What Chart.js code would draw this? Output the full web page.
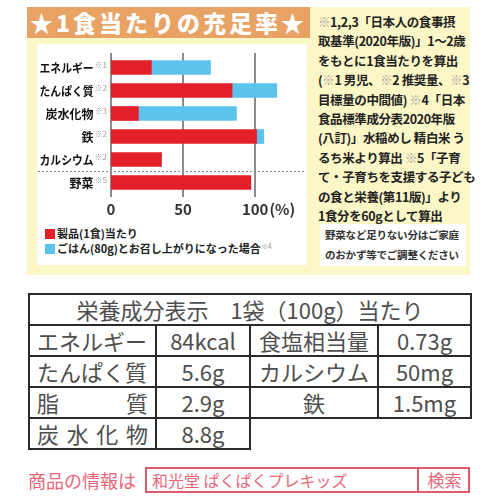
<!DOCTYPE html>
<html><head><meta charset="utf-8">
<script src="https://cdn.jsdelivr.net/npm/chart.js@4"></script>
<style>
html,body{margin:0;padding:0;background:#fff;width:500px;height:500px;overflow:hidden;font-family:"Noto Sans CJK JP","Noto Sans",sans-serif;}
.abs{position:absolute;}
#yellow{left:27px;top:7px;width:443px;height:268px;background:#fcf7c6;}
#header{left:27px;top:7px;width:283px;height:31px;background:#e8a263;color:#fff;font-weight:900;font-size:23px;line-height:31px;text-align:center;letter-spacing:3px;white-space:nowrap;}
#chartbox{left:37px;top:44px;width:270px;height:221px;background:#fff;}
#cwrap{left:37px;top:44px;width:270px;height:178px;}
#notes{left:318px;top:12px;font-size:12.5px;line-height:19.4px;font-weight:700;color:#222;white-space:nowrap;letter-spacing:-0.4px;}
.g{color:#a3a3a3;font-weight:400;}
#vegbox{left:320px;top:224px;width:146px;height:42px;background:#fff;}
#vegtxt{left:325px;top:225px;font-size:10.5px;line-height:20px;font-weight:700;color:#333;white-space:nowrap;letter-spacing:-0.2px;}
#legend{left:45px;top:226px;font-size:11px;line-height:15px;font-weight:700;color:#222;white-space:nowrap;}
#legend .sq{display:inline-block;width:10px;height:10px;margin-right:2px;vertical-align:-1px;}
#legend sup{font-size:7px;color:#999;font-weight:400;vertical-align:4px;line-height:0;}
#nut{left:28px;top:293px;border-collapse:collapse;color:#4e4e4e;font-size:22px;}
#nut td{border:2px solid #2a2a2a;height:29px;padding:0;text-align:center;line-height:29px;white-space:nowrap;}
#nut td.nb{border:none;}
.sp{display:flex;justify-content:space-between;padding:0 7px 0 7px;}
#shop{left:28px;top:467px;font-size:18px;line-height:26px;color:#e8687a;white-space:nowrap;}
#sbox{left:145px;top:467px;width:325px;height:26px;box-sizing:border-box;border:2px solid #e2596b;}
#sboxtxt{left:152px;top:467px;font-size:16px;line-height:26px;color:#e8687a;white-space:nowrap;}
#sbtn{left:417px;top:467px;width:53px;height:26px;box-sizing:border-box;border-left:2px solid #e2596b;font-size:17px;line-height:26px;color:#e8687a;text-align:center;}
</style></head>
<body>
<div id="yellow" class="abs"></div>
<div id="header" class="abs">★1食当たりの充足率★</div>
<div id="chartbox" class="abs"></div>
<div id="cwrap" class="abs"><canvas id="c" width="270" height="178"></canvas></div>
<div id="legend" class="abs">
<div><span class="sq" style="background:#e3202a"></span>製品(1食)当たり</div>
<div><span class="sq" style="background:#5cc3ee"></span>ごはん(80g)とお召し上がりになった場合<sup>※4</sup></div>
</div>
<div id="notes" class="abs"><span class="g">※</span>1,2,3「日本人の食事摂<br>取基準(2020年版)」1～2歳<br>をもとに1食当たりを算出<br>(<span class="g">※</span>1 男児、<span class="g">※</span>2 推奨量、<span class="g">※</span>3<br>目標量の中間値) <span class="g">※</span>4「日本<br>食品標準成分表2020年版<br>(八訂)」水稲めし 精白米 う<br>るち米より算出 <span class="g">※</span>5「子育<br>て・子育ちを支援する子ども<br>の食と栄養(第11版)」より<br>1食分を60gとして算出</div>
<div id="vegbox" class="abs"></div>
<div id="vegtxt" class="abs">野菜など足りない分はご家庭<br>のおかず等でご調整ください</div>

<table id="nut" class="abs">
<colgroup><col style="width:127px"><col style="width:94px"><col style="width:128px"><col style="width:93px"></colgroup>
<tr><td colspan="4">栄養成分表示　1袋（100g）当たり</td></tr>
<tr><td><div class="sp"><span>エネルギー</span></div></td><td>84kcal</td><td>食塩相当量</td><td>0.73g</td></tr>
<tr><td><div class="sp"><span>たんぱく質</span></div></td><td>5.6g</td><td>カルシウム</td><td>50mg</td></tr>
<tr><td><div class="sp"><span>脂</span><span>質</span></div></td><td>2.9g</td><td>鉄</td><td>1.5mg</td></tr>
<tr><td><div class="sp"><span>炭</span><span>水</span><span>化</span><span>物</span></div></td><td>8.8g</td><td class="nb"></td><td class="nb"></td></tr>
</table>

<div id="shop" class="abs">商品の情報は</div>
<div id="sbox" class="abs"></div>
<div id="sboxtxt" class="abs">和光堂 ぱくぱくプレキッズ</div>
<div id="sbtn" class="abs">検索</div>

<script>
const categories = ['エネルギー','たんぱく質','炭水化物','鉄','カルシウム','野菜'];
const categoryNotes = ['※1','※2','※3','※2','※2','※5'];
const productValues = [28, 84, 19, 101, 35, 97];
const riceValues = [41, 31, 68, 5, 0, 0];
const xTicks = [0, 50, 100];
const xTickLabels = ['0', '50', '100'];
const xUnit = '(%)';
const seriesNames = ['製品(1食)当たり', 'ごはん(80g)とお召し上がりになった場合'];

const FONT = '"Noto Sans CJK JP","Noto Sans",sans-serif';

const overlay = {
  id: 'overlay',
  beforeDatasetsDraw(chart) {
    const {ctx, chartArea: a, scales: {x}} = chart;
    ctx.save();
    ctx.strokeStyle = '#8c8c8c';
    ctx.lineWidth = 2;
    xTicks.forEach(v => {
      const px = Math.round(x.getPixelForValue(v));
      ctx.beginPath();
      ctx.moveTo(px, a.top - 3);
      ctx.lineTo(px, a.bottom + 3);
      ctx.stroke();
    });
    ctx.restore();
  },
  afterDatasetsDraw(chart) {
    const {ctx, chartArea: a, scales: {x, y}} = chart;
    ctx.save();
    const ys = Math.round((y.getPixelForValue(4) + y.getPixelForValue(5)) / 2) + 0.5;
    ctx.setLineDash([2, 2]);
    ctx.strokeStyle = '#8a8a8a';
    ctx.lineWidth = 1;
    ctx.beginPath();
    ctx.moveTo(1, ys);
    ctx.lineTo(chart.width - 2, ys);
    ctx.stroke();
    ctx.setLineDash([]);
    categories.forEach((c, i) => {
      const py = y.getPixelForValue(i);
      const right = a.left - 4;
      ctx.font = '8px ' + FONT;
      ctx.fillStyle = '#9a9a9a';
      ctx.textAlign = 'right';
      ctx.textBaseline = 'middle';
      ctx.fillText(categoryNotes[i], right, py - 3);
      const w = ctx.measureText(categoryNotes[i]).width;
      ctx.font = 'bold 12px ' + FONT;
      ctx.fillStyle = '#111';
      ctx.fillText(c, right - w - 1, py + 1, 54);
    });
    ctx.font = 'bold 15px ' + FONT;
    ctx.fillStyle = '#333';
    ctx.textBaseline = 'middle';
    xTicks.forEach((v, i) => {
      const px = x.getPixelForValue(v);
      ctx.textAlign = 'center';
      ctx.fillText(xTickLabels[i], px, a.bottom + 15);
      if (i === xTicks.length - 1) {
        const w = ctx.measureText(xTickLabels[i]).width;
        ctx.textAlign = 'left';
        ctx.fillText(xUnit, px + w / 2 + 1, a.bottom + 15);
      }
    });
    ctx.restore();
  }
};

new Chart(document.getElementById('c'), {
  type: 'bar',
  data: {
    labels: categories,
    datasets: [
      {label: seriesNames[0], data: productValues, backgroundColor: '#e3202a', barThickness: 14},
      {label: seriesNames[1], data: riceValues, backgroundColor: '#5cc3ee', barThickness: 14}
    ]
  },
  options: {
    indexAxis: 'y',
    responsive: false,
    animation: false,
    devicePixelRatio: 1,
    layout: {padding: {left: 74, right: 23, top: 12, bottom: 28}},
    plugins: {legend: {display: false}, tooltip: {enabled: false}},
    scales: {
      x: {display: false, stacked: true, min: 0, max: 120},
      y: {display: false, stacked: true}
    }
  },
  plugins: [overlay]
});
</script>
</body></html>
